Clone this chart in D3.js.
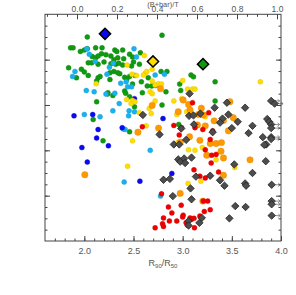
<!DOCTYPE html>
<html>
<head>
<meta charset="utf-8">
<script src="https://cdn.jsdelivr.net/npm/d3@7.9.0/dist/d3.min.js"></script>
<style>
  html, body { margin: 0; padding: 0; background: #fff; }
  svg { display: block; }
</style>
</head>
<body>
<svg id="chart" width="296" height="295"></svg>
<script>
// points as [R90/R50, y]
const green = [
  [2.03,4.50],[2.79,4.54],[1.86,4.26],[1.885,4.26],[1.96,4.18],[2.00,4.21],[2.03,4.24],[2.115,4.26],[2.18,4.26],[2.31,4.21],[2.33,4.18],[2.39,4.21],
  [2.08,4.07],[2.115,4.04],[2.14,4.08],[2.175,4.13],[2.22,4.11],[2.27,4.08],[2.30,4.00],[2.34,4.04],[2.40,4.02],[2.46,4.12],[2.49,4.06],[2.57,4.15],
  [2.04,3.93],[2.075,3.93],[2.14,3.90],[2.20,3.95],[2.27,3.91],[2.32,3.90],[2.35,3.92],[2.39,3.88],[2.48,3.86],[2.50,3.95],[2.56,3.90],
  [1.84,3.82],[1.97,3.79],[2.00,3.73],[2.04,3.65],[2.26,3.71],[2.30,3.74],[2.34,3.71],[2.36,3.69],[2.78,3.74],
  [2.14,3.60],[2.16,3.63],[2.125,3.53],[2.26,3.56],[2.41,3.61],[2.43,3.57],[2.46,3.63],[2.515,3.65],[2.58,3.51],[2.65,3.60],
  [2.49,3.46],[2.41,3.31],[2.42,3.26],[2.64,3.42],[2.685,3.42],[2.725,3.43],[2.24,3.27],[2.235,3.24],[2.29,3.21],[2.46,3.18],
  [2.51,2.96],[2.59,3.27],[2.125,3.07],[2.79,3.00],[2.09,2.68],[2.46,2.41],[2.19,2.21],[1.92,3.60],
  [2.84,3.74],[3.085,3.66],[3.11,3.62],[3.33,3.51],[2.97,3.46],[2.98,3.32],[2.83,3.29],[3.33,3.09],[2.96,2.57]
];
const cyan = [
  [2.505,4.24],[2.025,4.24],[2.05,4.12],[2.53,4.06],[2.11,3.96],[2.255,3.83],[2.295,3.92],[1.905,3.74],[1.88,3.63],[2.23,3.68],[2.72,3.66],[2.815,3.68],
  [2.37,3.48],[2.425,3.51],[2.44,3.40],[2.48,3.40],[2.02,3.32],[2.10,3.29],[2.22,3.24],[2.31,3.26],[2.355,3.03],[2.455,2.87],[2.51,2.85],
  [2.29,2.87],[2.45,2.76],[2.00,2.79],[2.16,2.74],[2.415,2.46],[2.395,2.47],[2.67,2.00],[2.405,1.30],[2.775,0.99]
];
const blue = [
  [1.895,2.76],[2.085,2.79],[2.80,2.70],[2.51,3.14],[2.14,2.46],[2.385,2.50],[2.125,2.27],[2.245,2.10],[1.975,2.06],[2.03,1.74],[2.565,1.32],[2.89,1.49]
];
const yellow = [
  [2.61,4.09],[2.435,3.88],[2.62,3.70],[2.60,3.66],[2.635,3.74],[2.69,3.79],[2.485,3.68],[2.53,3.65],[2.12,3.47],[2.69,3.53],[2.72,3.44],[2.755,3.47],[2.785,3.46],
  [2.43,3.12],[2.49,3.10],[2.475,3.03],[2.515,3.07],[2.67,3.29],[2.69,3.25],[2.72,3.09],[2.56,2.83],[2.68,2.81],[2.66,2.92],[2.63,2.54],[2.49,2.21],[2.44,1.65],
  [3.00,3.54],[3.79,3.51],[3.05,3.35],[3.10,3.35],[3.125,3.35],[2.91,3.09],[2.99,3.14],[2.94,2.79],[3.04,2.85],[3.23,2.74],[2.95,2.17],
  [3.06,2.01],[3.125,2.00],[3.20,2.06],[3.34,1.79],[3.53,1.62],[3.055,1.27],[3.185,1.32]
];
const orange = [
  [2.775,3.36],[2.69,2.99],[2.545,2.40],[2.755,2.49],[2.005,1.46],
  [3.005,3.11],[3.06,3.01],[2.955,2.85],[3.075,2.89],[3.19,2.93],[3.16,2.79],[3.21,2.78],[3.48,3.07],[3.515,2.72],[3.32,2.65],[3.415,2.66],
  [3.15,2.56],[3.23,2.54],[3.465,2.43],[3.07,2.30],[2.975,2.18],[3.175,2.22],[3.28,2.15],[3.34,2.15],[3.395,2.17],[3.39,1.98],[3.245,1.89],
  [3.415,1.83],[3.685,1.79],[3.415,1.45],[2.975,1.05],[3.205,0.88]
];
const red = [
  [2.59,2.52],[2.785,1.04],[2.805,0.51],[2.795,0.38],[2.805,0.32],[2.72,0.29],
  [3.10,3.05],[3.265,2.83],[2.91,2.55],[3.125,2.50],[3.205,2.46],[3.305,2.43],[2.965,2.34],[2.99,2.50],[3.28,2.24],[3.23,2.01],[3.295,1.89],
  [3.34,1.91],[3.29,1.72],[3.115,1.57],[3.365,1.52],[3.175,1.43],[3.23,1.39],[3.21,0.88],[3.255,0.88],[3.28,0.69],[3.22,0.65],[2.855,0.75],
  [2.89,0.62],[2.985,0.79],[2.865,0.44],[3.005,0.57],[3.075,0.51],[3.09,0.48],[3.115,0.50],[3.175,0.55],[3.00,0.53],[3.035,0.40],[3.05,0.35],
  [3.12,0.29],[2.94,0.44]
];
const gray = [
  [2.595,2.78],[2.765,2.35],[2.805,1.35],
  [3.07,3.25],[3.45,3.05],[3.635,2.94],[3.325,2.94],[3.065,2.76],[3.11,2.77],[3.18,2.81],[3.115,2.57],[3.405,2.70],[3.38,2.61],[3.465,2.79],
  [3.56,2.63],[3.71,2.54],[3.86,2.69],[3.88,2.63],[3.50,2.49],[3.67,2.38],[3.305,2.40],[3.815,2.29],[3.85,2.13],[3.83,2.12],[2.985,2.48],
  [2.91,2.13],[2.965,2.13],[3.035,2.23],[2.955,1.80],[2.975,1.75],[3.015,1.82],[3.025,1.72],[3.09,1.84],[3.525,1.69],[3.845,1.76],[3.71,1.50],
  [3.135,1.42],[3.28,1.44],[3.38,1.34],[3.425,1.22],[2.87,1.37],[3.08,1.16],[3.635,1.27],[3.645,1.22],[2.90,0.99],[3.09,0.92],[3.535,0.77],
  [3.64,0.75],[3.475,0.50],[3.06,0.44],[3.06,0.34],[3.17,0.40],[3.195,0.51]
];
// lower limits, drawn with an arrow
const grayLimit = [
  [3.90,3.09],[3.935,3.03],[3.90,2.57],[3.90,2.49],[3.90,2.29],[3.90,2.25],[3.905,1.24],[3.905,0.88],[3.905,0.81],[3.905,0.56]
];
// class means, placed on the top (B+bar)/T axis
const bigBT = [0.14, 0.38, 0.63];
const bigY = [4.57, 3.96, 3.90];
const bigColors = ['#0a0af0', '#ffdd00', '#109a10'];

const xMajor = [2.0, 2.5, 3.0, 3.5, 4.0];
const topMajor = [0.0, 0.2, 0.4, 0.6, 0.8, 1.0];
const yMajor = [1, 2, 3, 4];

const font = '"Liberation Sans", Arial, sans-serif';
const svg = d3.select('#chart');

const x = d3.scaleLinear().domain([1.6, 4.0]).range([45, 281]);
const xTop = d3.scaleLinear().domain([-0.16, 1.02]).range([45, 281]);
const y = d3.scaleLinear().domain([0, 5]).range([241, 14.3]);

function diamond(s) {
  return `M0,${-s}L${s},0L0,${s}L${-s},0Z`;
}

function drawCircles(data, color, r) {
  svg.append('g').selectAll('circle')
    .data(data)
    .join('circle')
    .attr('cx', (d) => x(d[0]))
    .attr('cy', (d) => y(d[1]))
    .attr('r', r)
    .attr('fill', color)
    .attr('stroke', d3.color(color).darker(0.4))
    .attr('stroke-width', 0.4);
}

drawCircles(green, '#109a10', 2.5);
drawCircles(cyan, '#19b2ee', 2.5);
drawCircles(blue, '#0a0af0', 2.5);
drawCircles(yellow, '#ffdd00', 2.5);
drawCircles(orange, '#ff9900', 3.2);
drawCircles(red, '#ee0000', 2.5);

// arrows for the limits
const arrows = svg.append('g').attr('stroke', '#666').attr('stroke-width', 0.7).attr('fill', 'none');
grayLimit.forEach((d) => {
  const cx = x(d[0]), cy = y(d[1]);
  arrows.append('path')
    .attr('d', `M${cx + 3},${cy}H${cx + 8.5}M${cx + 6.5},${cy - 1.8}L${cx + 8.5},${cy}L${cx + 6.5},${cy + 1.8}`);
});

svg.append('g').selectAll('path')
  .data(gray.concat(grayLimit))
  .join('path')
  .attr('transform', (d) => `translate(${x(d[0])},${y(d[1])})`)
  .attr('d', diamond(3.7))
  .attr('fill', '#4d4d4d')
  .attr('stroke', '#222')
  .attr('stroke-width', 0.8);

svg.append('g').selectAll('path')
  .data(bigBT)
  .join('path')
  .attr('transform', (d, i) => `translate(${xTop(d)},${y(bigY[i])})`)
  .attr('d', diamond(5.6))
  .attr('fill', (d, i) => bigColors[i])
  .attr('stroke', '#000')
  .attr('stroke-width', 1.5);

// axes
function tidy(g) {
  g.select('.domain').remove();
  g.selectAll('line').attr('stroke', '#444');
  g.selectAll('text').attr('fill', '#555');
  g.attr('font-family', font).attr('font-size', 9);
}

function range(a, b, step) {
  return d3.range(Math.round((b - a) / step) + 1).map((i) => +(a + i * step).toFixed(3));
}

svg.append('g').attr('transform', 'translate(0,241)')
  .call(d3.axisBottom(x).tickValues(range(1.7, 3.9, 0.1)).tickSize(-2.5).tickFormat(''))
  .call(tidy);
svg.append('g').attr('transform', 'translate(0,241)')
  .call(d3.axisBottom(x).tickValues(xMajor).tickSizeInner(-5).tickSizeOuter(0).tickPadding(6.5).tickFormat(d3.format('.1f')))
  .call(tidy);

svg.append('g').attr('transform', 'translate(0,14.3)')
  .call(d3.axisTop(xTop).tickValues(range(-0.15, 1.0, 0.05)).tickSize(-2.5).tickFormat(''))
  .call(tidy);
svg.append('g').attr('transform', 'translate(0,14.3)')
  .call(d3.axisTop(xTop).tickValues(topMajor).tickSizeInner(-5).tickSizeOuter(0).tickPadding(2.8).tickFormat(d3.format('.1f')))
  .call(tidy)
  .attr('font-size', 8.5);

const yMinor = range(0.25, 4.75, 0.25);
svg.append('g').attr('transform', 'translate(45,0)')
  .call(d3.axisLeft(y).tickValues(yMinor).tickSize(-2.5).tickFormat(''))
  .call(tidy);
svg.append('g').attr('transform', 'translate(45,0)')
  .call(d3.axisLeft(y).tickValues(yMajor).tickSize(-5).tickFormat(''))
  .call(tidy);
svg.append('g').attr('transform', 'translate(281,0)')
  .call(d3.axisRight(y).tickValues(yMinor).tickSize(-2.5).tickFormat(''))
  .call(tidy);
svg.append('g').attr('transform', 'translate(281,0)')
  .call(d3.axisRight(y).tickValues(yMajor).tickSize(-5).tickFormat(''))
  .call(tidy);

svg.append('rect')
  .attr('x', 45).attr('y', 14.3)
  .attr('width', 236).attr('height', 226.7)
  .attr('fill', 'none')
  .attr('stroke', '#444')
  .attr('stroke-width', 1);

// titles
svg.append('text')
  .attr('x', 163).attr('y', 6.9)
  .attr('text-anchor', 'middle')
  .attr('font-family', font).attr('font-size', 7.4)
  .attr('fill', '#555')
  .text('(B+bar)/T');

const xt = svg.append('text')
  .attr('x', 163).attr('y', 266)
  .attr('text-anchor', 'middle')
  .attr('font-family', font).attr('font-size', 9)
  .attr('fill', '#555');
xt.append('tspan').text('R');
xt.append('tspan').attr('font-size', 6).attr('dy', 2).text('90');
xt.append('tspan').attr('dy', -2).text('/R');
xt.append('tspan').attr('font-size', 6).attr('dy', 2).text('50');
</script>
</body>
</html>
